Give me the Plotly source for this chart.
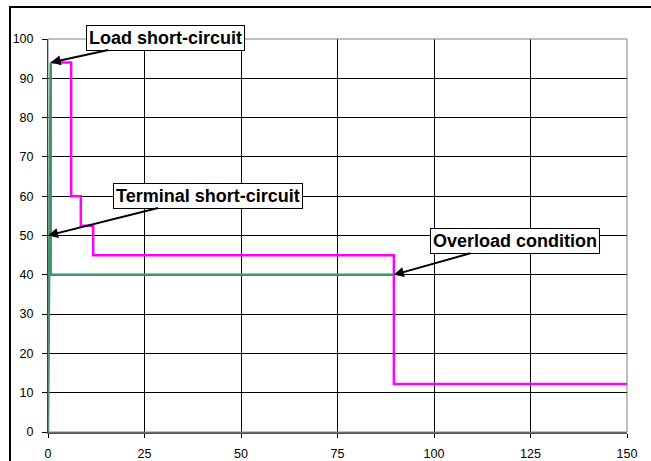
import plotly.graph_objects as go

# Data
load_x = [0.7, 6, 6, 8.5, 8.5, 11.7, 11.7, 89.6, 89.6, 150]
load_y = [94, 94, 60, 60, 52.5, 52.5, 45, 45, 12.2, 12.2]
term_x = [0, 0.7, 0.7, 89.6]
term_y = [0, 94, 40, 40]
x_ticks = [0, 25, 50, 75, 100, 125, 150]
y_ticks = [0, 10, 20, 30, 40, 50, 60, 70, 80, 90, 100]

W, H = 651, 461
ML, MR, MT, MB = 48, 24, 39, 29
PW, PH = W - ML - MR, H - MT - MB

FONT = "Arial, Liberation Sans, sans-serif"

fig = go.Figure()
fig.add_trace(go.Scatter(x=load_x, y=load_y, mode="lines",
                         line=dict(color="#FF00FF", width=2.5), showlegend=False))
fig.add_trace(go.Scatter(x=term_x, y=term_y, mode="lines",
                         line=dict(color="#339966", width=2.5), showlegend=False))

def px2paper_x(p):
    return (p - ML) / PW

def px2paper_y(p):
    return (H - MB - p) / PH

shapes = [
    # plot area border (gray)
    dict(type="rect", xref="paper", yref="paper", x0=0, x1=1, y0=0, y1=1,
         line=dict(color="#808080", width=1), layer="above"),
    # outer chart border
    dict(type="rect", xref="paper", yref="paper",
         x0=px2paper_x(10), x1=px2paper_x(W + 20),
         y0=px2paper_y(H + 20), y1=px2paper_y(7),
         line=dict(color="#000000", width=2), layer="above"),
]

ann_common = dict(showarrow=True, arrowhead=2, arrowsize=1, arrowwidth=2,
                  arrowcolor="#000000", bgcolor="#FFFFFF", bordercolor="#000000",
                  borderwidth=1, borderpad=2, axref="pixel", ayref="pixel",
                  font=dict(family=FONT, size=18, color="#000000"))
annotations = [
    dict(x=0.7, y=94, ax=115, ay=-25, text="<b>Load short-circuit</b>", **ann_common),
    dict(x=0, y=50, ax=160, ay=-40, text="<b>Terminal short-circuit</b>", **ann_common),
    dict(x=89.6, y=40, ax=121, ay=-34, text="<b>Overload condition</b>", **ann_common),
]

fig.update_layout(
    width=W, height=H,
    margin=dict(l=ML, r=MR, t=MT, b=MB, pad=0),
    paper_bgcolor="#FFFFFF", plot_bgcolor="#FFFFFF",
    font=dict(family=FONT, size=12, color="#000000"),
    shapes=shapes, annotations=annotations,
    xaxis=dict(range=[0, 150], tickvals=x_ticks, ticks="outside", ticklen=4,
               tickcolor="#000000", showgrid=True, gridcolor="#000000", gridwidth=1,
               showline=True, linecolor="#555555", linewidth=2, zeroline=False,
               ticklabelstandoff=5, automargin=False,
               tickfont=dict(size=12.5, family=FONT, color="#000000")),
    yaxis=dict(range=[0, 100], tickvals=y_ticks, ticks="outside", ticklen=5,
               tickcolor="#000000", showgrid=True, gridcolor="#000000", gridwidth=1,
               showline=True, linecolor="#000000", linewidth=1, zeroline=False,
               ticklabelstandoff=6, automargin=False,
               tickfont=dict(size=12.5, family=FONT, color="#000000")),
)

fig.write_html("out.html", config={"displayModeBar": False},
               post_script="document.body.style.margin='0';")
